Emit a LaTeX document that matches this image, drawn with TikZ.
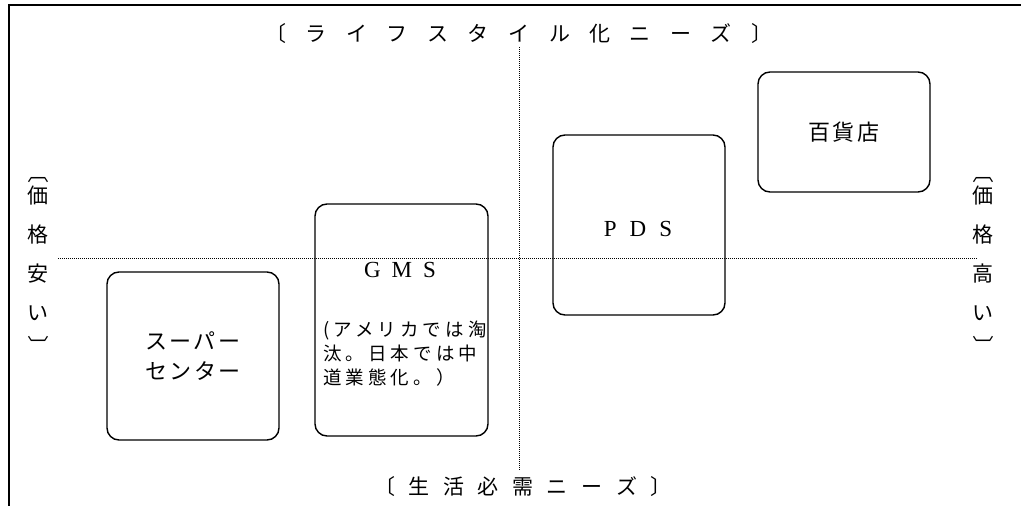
\documentclass[tikz,border=0pt]{standalone}
\usepackage{fontspec}
\setmainfont{Liberation Serif}
\newfontfamily\jp{Noto Sans CJK JP}
\begin{document}
\begin{tikzpicture}[x=1pt,y=-1pt,
  rbox/.style={draw, line width=1.4pt, rounded corners=12pt, inner sep=0pt, align=center},
  framel/.style={line width=2.5pt},
  dotline/.style={line width=0.9pt, dash pattern=on 1pt off 1pt},
  jpL/.style={font=\jp\fontsize{21pt}{21pt}\selectfont, inner sep=0pt},
  jpM/.style={font=\jp\fontsize{22pt}{30pt}\selectfont\addfontfeature{LetterSpace=10}, inner sep=0pt},
  jpS/.style={font=\jp\fontsize{18.5pt}{24pt}\selectfont\addfontfeature{LetterSpace=22}, inner sep=0pt, align=left},
  vlab/.style={font=\jp\fontsize{21pt}{39pt}\selectfont, inner sep=0pt, align=center},
  brk/.style={font=\jp\fontsize{21pt}{21pt}\selectfont, inner sep=0pt},
  latin/.style={font=\fontsize{23pt}{23pt}\selectfont, inner sep=0pt}]
\useasboundingbox (0,0) rectangle (1021,506);
% frame
\coordinate (fa) at (9,506);
\coordinate (fb) at (9,5);
\coordinate (fc) at (1021,5);
\draw[framel] (fa) -- (fb) -- (fc);
% axes
\coordinate (h1) at (58,258);
\coordinate (h2) at (978,258);
\coordinate (v1) at (519,47);
\coordinate (v2) at (519,470);
\draw[dotline] (h1) -- (h2);
\draw[dotline] (v1) -- (v2);
% axis labels
\node[jpL] (top) at (519,34) {\spaceskip=19.5pt\relax 〔 ラ イ フ ス タ イ ル 化 ニ ー ズ 〕};
\node[jpL] (bot) at (523,487) {\spaceskip=13.5pt\relax 〔 生 活 必 需 ニ ー ズ 〕};
\node[vlab] (left) at (38,253) {価\\格\\安\\い};
\node[vlab] (right) at (983,253) {価\\格\\高\\い};
\node[brk, rotate=-90] (lt) at (38,173) {〔};
\node[brk, rotate=-90] (lb) at (38,346) {〕};
\node[brk, rotate=-90] (rt) at (983,173) {〔};
\node[brk, rotate=-90] (rb) at (983,346) {〕};
% boxes
\node[rbox, minimum width=172pt, minimum height=168pt, jpM] (sc) at (193,356) {スーパー\\センター};
\node[rbox, minimum width=173pt, minimum height=232pt] (gms) at (401.5,320) {};
\node[rbox, minimum width=172pt, minimum height=180pt] (pds) at (639,225) {};
\node[rbox, minimum width=172pt, minimum height=120pt, jpM] (dept) at (844,132) {\raisebox{-6pt}{百貨店}};
% box texts
\node[latin] (gmst) at (400,270) {G\hspace{11pt}M\hspace{11pt}S};
\node[latin] (pdst) at (638,229) {P\hspace{13pt}D\hspace{13pt}S};
\node[jpS, anchor=west] (note) at (323,354) {(アメリカでは淘\\汰。日本では中\\道業態化。）};
\end{tikzpicture}
\end{document}
